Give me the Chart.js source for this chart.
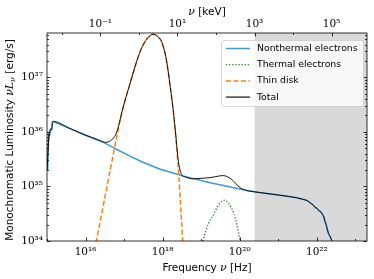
<!DOCTYPE html>
<html>
<head>
<meta charset="utf-8">
<script src="https://cdn.jsdelivr.net/npm/chart.js@4.4.1/dist/chart.umd.min.js"></script>
<style>
  html, body { margin: 0; padding: 0; background: #fff; }
</style>
</head>
<body>
<canvas id="myChart" width="374" height="279"></canvas>
<script>
// frequency [Hz] and nu*L_nu [erg/s]
const nuNonthermal = [1.0e15, 1.05e15, 1.1e15, 1.12e15, 1.15e15, 1.2e15, 1.26e15, 1.32e15, 1.38e15, 1.45e15,
  3.98e15, 1.0e16, 3.09e16, 6.31e16, 1.38e17, 3.16e17, 8.32e17, 3.39e18, 1.7e19, 5.01e19,
  1.66e20, 3.98e20, 1.12e21, 3.02e21, 4.57e21, 5.62e21, 6.76e21, 7.94e21, 9.12e21, 1.0e22,
  1.12e22, 1.23e22, 1.35e22, 1.51e22, 1.62e22, 1.74e22, 1.86e22, 2.0e22, 2.14e22, 2.34e22, 2.51e22];
const lumNonthermal = [2.0e35, 3.55e35, 7.1e35, 8.9e35, 8.5e35, 1.07e36, 1.12e36, 1.1e36, 1.48e36, 1.55e36,
  1.15e36, 8.7e35, 6.3e35, 4.8e35, 3.63e35, 2.75e35, 2.09e35, 1.55e35, 1.17e35, 1.0e35,
  8.3e34, 7.6e34, 6.9e34, 6.2e34, 5.75e34, 5.5e34, 5.0e34, 4.6e34, 4.1e34, 4.0e34,
  3.6e34, 3.5e34, 3.2e34, 2.8e34, 2.3e34, 2.0e34, 1.66e34, 1.38e34, 1.26e34, 1.1e34, 9.5e33];

const nuThermal = [8.91e18, 1.12e19, 1.51e19, 2.04e19, 2.82e19, 3.98e19, 5.25e19, 7.08e19, 8.51e19, 1.02e20, 1.15e20];
const lumThermal = [4.0e33, 1.0e34, 2.0e34, 2.95e34, 4.57e34, 5.6e34, 4.79e34, 3.16e34, 1.9e34, 1.0e34, 5.0e33];

const nuDisk = [1.58e16, 1.91e16, 2.51e16, 3.47e16, 5.01e16, 6.61e16, 8.91e16, 1.12e17, 1.35e17, 2.09e17, 2.63e17,
  3.39e17, 4.47e17, 5.62e17, 7.08e17, 9.33e17, 1.1e18, 1.26e18, 1.58e18, 1.91e18, 2.29e18, 2.63e18, 2.95e18, 3.31e18, 3.55e18];
const lumDisk = [5.0e33, 1.0e34, 2.7e34, 8.7e34, 3.3e35, 8.9e35, 2.4e36, 4.37e36, 6.76e36, 1.9e37, 3.02e37,
  4.37e37, 5.62e37, 6.17e37, 5.75e37, 4.57e37, 3.16e37, 2.04e37, 6.6e36, 2.24e36, 5.6e35, 1.58e35, 4.0e34, 1.0e34, 4.0e33];

const nuTotal = [1.0e15, 1.05e15, 1.1e15, 1.12e15, 1.15e15, 1.2e15, 1.26e15, 1.32e15, 1.38e15, 1.45e15,
  3.98e15, 1.0e16, 2.0e16, 2.82e16, 3.24e16, 3.98e16, 5.01e16, 6.31e16, 7.59e16, 8.91e16, 1.12e17, 1.35e17,
  2.09e17, 2.63e17, 3.39e17, 4.47e17, 5.62e17, 7.08e17, 9.33e17, 1.1e18, 1.26e18, 1.58e18, 1.91e18, 2.29e18, 2.51e18,
  2.82e18, 3.09e18, 3.98e18, 6.17e18, 1.0e19, 1.7e19, 2.82e19, 3.72e19, 4.79e19, 6.17e19, 7.94e19,
  1.02e20, 1.32e20, 1.66e20, 3.98e20, 1.12e21, 3.02e21, 4.57e21, 5.62e21, 6.76e21, 7.94e21, 9.12e21,
  1.0e22, 1.12e22, 1.23e22, 1.35e22, 1.51e22, 1.62e22, 1.74e22, 1.86e22, 2.0e22, 2.14e22, 2.34e22, 2.51e22];
const lumTotal = [2.0e35, 3.55e35, 7.1e35, 8.9e35, 8.5e35, 1.07e36, 1.12e36, 1.1e36, 1.48e36, 1.55e36,
  1.15e36, 8.7e35, 7.3e35, 6.6e35, 6.45e35, 6.6e35, 7.4e35, 9.5e35, 1.5e36, 2.4e36, 4.37e36, 6.76e36,
  1.9e37, 3.02e37, 4.37e37, 5.62e37, 6.17e37, 5.75e37, 4.57e37, 3.16e37, 2.04e37, 6.6e36, 2.24e36, 6.3e35, 3.16e35,
  2.0e35, 1.66e35, 1.48e35, 1.38e35, 1.41e35, 1.45e35, 1.55e35, 1.58e35, 1.51e35, 1.35e35, 1.12e35,
  9.5e34, 8.7e34, 8.3e34, 7.6e34, 6.9e34, 6.2e34, 5.75e34, 5.5e34, 5.0e34, 4.6e34, 4.1e34,
  4.0e34, 3.6e34, 3.5e34, 3.2e34, 2.8e34, 2.3e34, 2.0e34, 1.66e34, 1.38e34, 1.26e34, 1.1e34, 9.5e33];

const xMin = 1e15, xMax = 2e23;
const yMin = 1e34, yMax = 6.5e37;
const hzPerKeV = 2.418e17;
const grayFromKeV = 1e3;
const xTicksHz = [1e16, 1e18, 1e20, 1e22];
const xTicksKeV = [1e-1, 1e1, 1e3, 1e5];
const yTicks = [1e34, 1e35, 1e36, 1e37];

const supMap = {'0':'⁰','1':'¹','2':'²','3':'³','4':'⁴','5':'⁵','6':'⁶','7':'⁷','8':'⁸','9':'⁹','-':'⁻'};
function powLabel(v) {
  const e = String(Math.round(Math.log10(v)));
  return '10' + e.split('').map(c => supMap[c]).join('');
}
function pts(xs, ys) {
  let out = [];
  for (let i = 0; i < xs.length; i++) out.push({x: xs[i], y: ys[i]});
  return out;
}

const tickFont = {family: 'DejaVu Serif', size: 10.5};
const sans = 'DejaVu Sans';

// grey band, frame, inward ticks, titles and legend
const decor = {
  id: 'decor',
  beforeDatasetsDraw(chart) {
    const {ctx, chartArea: a, scales} = chart;
    const gx = scales.x.getPixelForValue(grayFromKeV * hzPerKeV);
    ctx.save();
    ctx.fillStyle = '#d9d9d9';
    ctx.fillRect(gx, a.top, a.right - gx, a.bottom - a.top);
    ctx.restore();
  },
  afterDraw(chart) {
    const {ctx, chartArea: a, scales} = chart;
    ctx.save();
    ctx.strokeStyle = '#000';
    ctx.lineWidth = 0.8;
    ctx.strokeRect(a.left, a.top, a.right - a.left, a.bottom - a.top);

    ctx.beginPath();
    // y ticks, major + minor
    for (let e = 33; e <= 38; e++) {
      for (let m = 1; m <= 9; m++) {
        const v = m * Math.pow(10, e);
        if (v < yMin || v > yMax) continue;
        const py = Math.round(scales.y.getPixelForValue(v)) + 0.5;
        const len = m === 1 ? 3.5 : 2;
        ctx.moveTo(a.left, py); ctx.lineTo(a.left + len, py);
        ctx.moveTo(a.right, py); ctx.lineTo(a.right - len, py);
      }
    }
    // bottom ticks
    for (let e = 15; e <= 23; e++) {
      const v = Math.pow(10, e);
      if (v < xMin || v > xMax) continue;
      const px = Math.round(scales.x.getPixelForValue(v)) + 0.5;
      const len = e % 2 === 0 ? 3.5 : 2;
      ctx.moveTo(px, a.bottom); ctx.lineTo(px, a.bottom - len);
    }
    // top ticks (keV)
    for (let e = -3; e <= 6; e++) {
      const v = Math.pow(10, e);
      if (v < xMin / hzPerKeV || v > xMax / hzPerKeV) continue;
      const px = Math.round(scales.xTop.getPixelForValue(v)) + 0.5;
      const len = e % 2 !== 0 ? 3.5 : 2;
      ctx.moveTo(px, a.top); ctx.lineTo(px, a.top + len);
    }
    ctx.stroke();

    // axis titles
    const cx = (a.left + a.right) / 2;
    drawRich(ctx, [
      {t: 'Frequency ', f: '10.5px ' + sans},
      {t: 'ν', f: 'italic 11px DejaVu Serif'},
      {t: ' [Hz]', f: '10.5px ' + sans}
    ], cx, 268);
    drawRich(ctx, [
      {t: 'ν', f: 'italic 11px DejaVu Serif'},
      {t: ' [keV]', f: '10.5px ' + sans}
    ], cx, 12);
    ctx.save();
    ctx.translate(10, (a.top + a.bottom) / 2 + 3);
    ctx.rotate(-Math.PI / 2);
    drawRich(ctx, [
      {t: 'Monochromatic Luminosity ', f: '10.5px ' + sans},
      {t: 'νL', f: 'italic 11px DejaVu Serif'},
      {t: 'ν', f: 'italic 8px DejaVu Serif', dy: 3},
      {t: ' [erg/s]', f: '10.5px ' + sans}
    ], 0, 0);
    ctx.restore();

    // legend
    const lx = 221, ly = 40, lw = 142, lh = 66;
    ctx.fillStyle = 'rgba(255,255,255,0.8)';
    ctx.strokeStyle = '#cccccc';
    ctx.lineWidth = 0.8;
    ctx.beginPath();
    ctx.roundRect(lx + 0.5, ly + 0.5, lw, lh, 2.5);
    ctx.fill();
    ctx.stroke();
    ctx.font = '9.3px ' + sans;
    ctx.textBaseline = 'middle';
    chart.data.datasets.forEach((ds, i) => {
      const yy = ly + 8.5 + i * 16.2;
      ctx.strokeStyle = ds.borderColor;
      ctx.lineWidth = ds.legendWidth;
      ctx.setLineDash(ds.borderDash || []);
      ctx.beginPath();
      ctx.moveTo(lx + 5, yy); ctx.lineTo(lx + 29, yy);
      ctx.stroke();
      ctx.setLineDash([]);
      ctx.fillStyle = '#000';
      ctx.fillText(ds.label, lx + 36, yy);
    });
    ctx.restore();
  }
};

function drawRich(ctx, parts, cx, cy) {
  let w = 0;
  parts.forEach(p => { ctx.font = p.f; w += ctx.measureText(p.t).width; });
  let x = cx - w / 2;
  ctx.fillStyle = '#000';
  ctx.textBaseline = 'middle';
  ctx.textAlign = 'left';
  parts.forEach(p => {
    ctx.font = p.f;
    ctx.fillText(p.t, x, cy + (p.dy || 0));
    x += ctx.measureText(p.t).width;
  });
}

const ctx = document.getElementById('myChart').getContext('2d');
const chart = new Chart(ctx, {
  type: 'line',
  data: {
    datasets: [{
      label: 'Nonthermal electrons',
      data: pts(nuNonthermal, lumNonthermal),
      borderColor: '#3a9ad9',
      borderWidth: 1.5,
      legendWidth: 1.5,
      tension: 0,
      order: 3
    }, {
      label: 'Thermal electrons',
      data: pts(nuThermal, lumThermal),
      borderColor: '#3b7d3b',
      borderWidth: 1.4,
      legendWidth: 1.2,
      borderDash: [1.3, 1.8],
      cubicInterpolationMode: 'monotone',
      order: 2
    }, {
      label: 'Thin disk',
      data: pts(nuDisk, lumDisk),
      borderColor: '#ff7f0e',
      borderWidth: 1.5,
      legendWidth: 1.5,
      borderDash: [5, 2.5],
      cubicInterpolationMode: 'monotone',
      order: 1
    }, {
      label: 'Total',
      data: pts(nuTotal, lumTotal),
      borderColor: '#111111',
      borderWidth: 1.0,
      legendWidth: 1.2,
      cubicInterpolationMode: 'monotone',
      order: 0
    }]
  },
  options: {
    responsive: false,
    animation: false,
    devicePixelRatio: 1,
    layout: {padding: {right: 7, left: 0, top: 0, bottom: 0}},
    elements: {point: {radius: 0}},
    plugins: {legend: {display: false}, tooltip: {enabled: false}},
    scales: {
      x: {
        type: 'logarithmic', position: 'bottom', min: xMin, max: xMax,
        afterBuildTicks: s => { s.ticks = xTicksHz.map(v => ({value: v})); },
        ticks: {callback: v => powLabel(v), font: tickFont, color: '#000', padding: 5, maxRotation: 0, autoSkip: false},
        grid: {display: false, drawTicks: false},
        border: {display: false},
        afterFit: s => { s.height = 38; }
      },
      xTop: {
        type: 'logarithmic', position: 'top', axis: 'x',
        min: xMin / hzPerKeV, max: xMax / hzPerKeV,
        afterBuildTicks: s => { s.ticks = xTicksKeV.map(v => ({value: v})); },
        ticks: {callback: v => powLabel(v), font: tickFont, color: '#000', padding: 2, maxRotation: 0, autoSkip: false},
        grid: {display: false, drawTicks: false},
        border: {display: false},
        afterFit: s => { s.height = 33; }
      },
      y: {
        type: 'logarithmic', position: 'left', min: yMin, max: yMax,
        afterBuildTicks: s => { s.ticks = yTicks.map(v => ({value: v})); },
        ticks: {callback: v => powLabel(v), font: tickFont, color: '#000', padding: 4, autoSkip: false},
        grid: {display: false, drawTicks: false},
        border: {display: false},
        afterFit: s => { s.width = 47; }
      }
    }
  },
  plugins: [decor]
});
</script>
</body>
</html>
